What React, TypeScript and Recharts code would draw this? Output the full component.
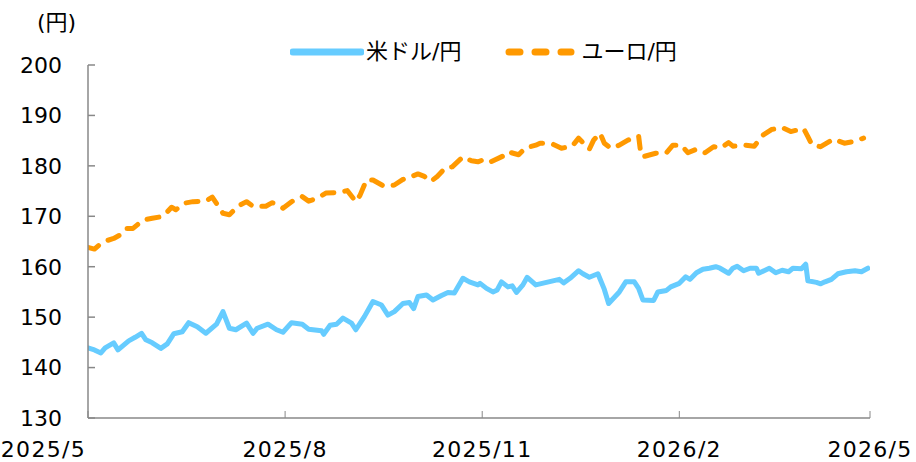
import { LineChart, Line, XAxis, YAxis } from "recharts";

// 米ドル/円 (daily-ish readings)
const usdDates = [
  "2025/5/1", "2025/5/4", "2025/5/7", "2025/5/9", "2025/5/13", "2025/5/15", "2025/5/20", "2025/5/23",
  "2025/5/26", "2025/5/28", "2025/5/31", "2025/6/4", "2025/6/7", "2025/6/10", "2025/6/14", "2025/6/17",
  "2025/6/21", "2025/6/25", "2025/6/30", "2025/7/3", "2025/7/6", "2025/7/9", "2025/7/14", "2025/7/17",
  "2025/7/19", "2025/7/24", "2025/7/28", "2025/7/31", "2025/8/4", "2025/8/9", "2025/8/12", "2025/8/18",
  "2025/8/19", "2025/8/22", "2025/8/25", "2025/8/28", "2025/9/1", "2025/9/3", "2025/9/7", "2025/9/11",
  "2025/9/15", "2025/9/18", "2025/9/21", "2025/9/25", "2025/9/28", "2025/9/30", "2025/10/2", "2025/10/6",
  "2025/10/9", "2025/10/13", "2025/10/16", "2025/10/19", "2025/10/23", "2025/10/26", "2025/10/30", "2025/10/31",
  "2025/11/3", "2025/11/6", "2025/11/8", "2025/11/10", "2025/11/13", "2025/11/15", "2025/11/17", "2025/11/20",
  "2025/11/22", "2025/11/26", "2025/11/30", "2025/12/4", "2025/12/7", "2025/12/9", "2025/12/12", "2025/12/16",
  "2025/12/18", "2025/12/21", "2025/12/25", "2025/12/28", "2025/12/30", "2026/1/4", "2026/1/7", "2026/1/11",
  "2026/1/13", "2026/1/15", "2026/1/20", "2026/1/22", "2026/1/26", "2026/1/28", "2026/2/1", "2026/2/4",
  "2026/2/6", "2026/2/9", "2026/2/12", "2026/2/15", "2026/2/18", "2026/2/20", "2026/2/24", "2026/2/26",
  "2026/2/28", "2026/3/3", "2026/3/6", "2026/3/9", "2026/3/10", "2026/3/15", "2026/3/18", "2026/3/21",
  "2026/3/24", "2026/3/26", "2026/3/30", "2026/4/1", "2026/4/2", "2026/4/6", "2026/4/8", "2026/4/10",
  "2026/4/13", "2026/4/16", "2026/4/20", "2026/4/24", "2026/4/27", "2026/4/30",
];
const usdValues = [
  143.9, 143.5, 142.9, 143.9, 144.9, 143.5, 145.3, 146.0,
  146.8, 145.5, 144.9, 143.8, 144.7, 146.7, 147.1, 148.9,
  148.1, 146.8, 148.6, 151.1, 147.8, 147.5, 148.8, 146.8,
  147.8, 148.6, 147.5, 147.0, 148.9, 148.6, 147.6, 147.3,
  146.6, 148.4, 148.6, 149.8, 148.8, 147.5, 150.1, 153.1,
  152.4, 150.4, 151.1, 152.7, 152.9, 151.7, 154.1, 154.4,
  153.4, 154.3, 154.9, 154.8, 157.7, 157.0, 156.4, 156.7,
  155.7, 155.0, 155.4, 157.0, 156.0, 156.2, 154.9, 156.4,
  157.9, 156.4, 156.8, 157.2, 157.5, 156.8, 157.7, 159.2,
  158.6, 157.9, 158.6, 155.5, 152.7, 155.0, 157.0, 157.0,
  155.7, 153.4, 153.3, 155.0, 155.3, 156.0, 156.7, 158.0,
  157.5, 158.8, 159.5, 159.7, 160.0, 159.7, 158.7, 159.7,
  160.1, 159.2, 159.7, 159.7, 158.7, 159.7, 158.8, 159.3,
  159.0, 159.7, 159.6, 160.5, 157.2, 156.9, 156.6, 157.0,
  157.5, 158.6, 159.0, 159.2, 159.0, 159.7,
];

// ユーロ/円
const eurDates = [
  "2025/5/1", "2025/5/4", "2025/5/7", "2025/5/10", "2025/5/13", "2025/5/16", "2025/5/19", "2025/5/22",
  "2025/5/24", "2025/5/27", "2025/5/31", "2025/6/4", "2025/6/6", "2025/6/9", "2025/6/11", "2025/6/15",
  "2025/6/19", "2025/6/25", "2025/6/28", "2025/7/1", "2025/7/3", "2025/7/6", "2025/7/10", "2025/7/14",
  "2025/7/17", "2025/7/23", "2025/7/26", "2025/7/31", "2025/8/4", "2025/8/9", "2025/8/12", "2025/8/16",
  "2025/8/20", "2025/8/26", "2025/8/30", "2025/9/3", "2025/9/5", "2025/9/8", "2025/9/11", "2025/9/16",
  "2025/9/21", "2025/9/25", "2025/9/29", "2025/10/2", "2025/10/5", "2025/10/8", "2025/10/11", "2025/10/15",
  "2025/10/18", "2025/10/23", "2025/10/27", "2025/10/30", "2025/11/2", "2025/11/5", "2025/11/11", "2025/11/13",
  "2025/11/18", "2025/11/21", "2025/11/26", "2025/11/28", "2025/12/4", "2025/12/8", "2025/12/13", "2025/12/16",
  "2025/12/21", "2025/12/23", "2025/12/26", "2025/12/28", "2025/12/31", "2026/1/4", "2026/1/8", "2026/1/13",
  "2026/1/14", "2026/1/15", "2026/1/21", "2026/1/26", "2026/1/29", "2026/2/2", "2026/2/5", "2026/2/9",
  "2026/2/13", "2026/2/17", "2026/2/20", "2026/2/24", "2026/2/26", "2026/3/4", "2026/3/8", "2026/3/12",
  "2026/3/16", "2026/3/21", "2026/3/25", "2026/3/31", "2026/4/2", "2026/4/4", "2026/4/8", "2026/4/14",
  "2026/4/19", "2026/4/23", "2026/4/28",
];
const eurValues = [
  163.8, 163.5, 164.6, 165.2, 165.6, 166.3, 167.6, 167.6,
  168.3, 169.3, 169.6, 169.9, 170.4, 171.8, 171.3, 172.6,
  172.9, 173.0, 173.8, 171.9, 170.6, 170.3, 172.0, 172.9,
  172.0, 172.0, 172.7, 171.6, 172.9, 173.9, 173.0, 173.6,
  174.6, 174.7, 175.1, 172.9, 174.2, 177.2, 177.2, 176.0,
  176.2, 177.3, 177.9, 178.4, 177.9, 176.9, 177.9, 179.7,
  179.8, 181.8, 181.0, 180.8, 181.3, 180.8, 182.0, 182.8,
  182.2, 183.5, 184.1, 184.5, 184.3, 183.5, 183.9, 185.5,
  183.3, 185.1, 186.5, 184.5, 183.5, 184.1, 185.1, 185.9,
  182.5, 181.8, 182.5, 182.6, 184.1, 184.1, 182.6, 183.3,
  182.6, 183.8, 183.5, 184.6, 183.9, 184.1, 183.9, 186.1,
  187.2, 187.6, 186.8, 187.4, 185.8, 184.1, 183.8, 185.3,
  184.5, 184.8, 185.5,
];

const tickLabels = ["2025/5", "2025/8", "2025/11", "2026/2", "2026/5"];
const yTicks = [130, 140, 150, 160, 170, 180, 190, 200];

const base = Date.UTC(2025, 4, 1);
const dayOf = (s: string) => {
  const [y, m, d] = s.split("/").map(Number);
  return (Date.UTC(y, m - 1, d) - base) / 86400000;
};

const usdData = usdDates.map((d, i) => ({ day: dayOf(d), value: usdValues[i] }));
const eurData = eurDates.map((d, i) => ({ day: dayOf(d), value: eurValues[i] }));
const xTicks = tickLabels.map((t) => dayOf(t + "/1"));

const FONT = "'DejaVu Sans', 'Noto Sans CJK JP', sans-serif";
const AXIS = "#888888";
const BLUE = "#66CCFF";
const ORANGE = "#FF9900";

const XTick = (props: any) => {
  const { x, y, payload, index } = props;
  const label = tickLabels[xTicks.indexOf(payload.value)] ?? "";
  const first = index === 0;
  return (
    <g>
      <line x1={x} x2={x} y1={y - 23} y2={y - 30} stroke={AXIS} strokeWidth={1} />
      <text
        x={first ? x - 2 : x}
        y={y}
        dy="0.71em"
        textAnchor={first ? "end" : "middle"}
        fontSize={22}
        letterSpacing={1.3}
        fontFamily={FONT}
        fill="#000"
      >
        {label}
      </text>
    </g>
  );
};

const YTick = (props: any) => {
  const { x, y, payload } = props;
  return (
    <g>
      <line x1={x + 26} x2={x + 33} y1={y} y2={y} stroke={AXIS} strokeWidth={1.5} />
      <text x={x} y={y} dy="0.355em" textAnchor="end" fontSize={22} fontFamily={FONT} fill="#000">
        {payload.value}
      </text>
    </g>
  );
};

export default function App() {
  return (
    <div style={{ position: "absolute", left: 0, top: 0, width: 916, height: 462, background: "#fff", fontFamily: FONT }}>
      <div style={{ position: "absolute", left: 37, top: 4, fontSize: 22, color: "#000" }}>(円)</div>
      <div
        style={{
          position: "absolute",
          left: 290,
          top: 38,
          display: "flex",
          alignItems: "center",
          fontSize: 22,
          color: "#000",
          lineHeight: "28px",
        }}
      >
        <svg width={74} height={10}>
          <line x1={3} x2={71} y1={5} y2={5} stroke={BLUE} strokeWidth={7} strokeLinecap="round" />
        </svg>
        <span style={{ marginLeft: 2 }}>米ドル/円</span>
        <svg width={70} height={10} style={{ marginLeft: 44 }}>
          <line x1={4} x2={66} y1={5} y2={5} stroke={ORANGE} strokeWidth={7} strokeLinecap="round" strokeDasharray="11 15" />
        </svg>
        <span style={{ marginLeft: 6 }}>ユーロ/円</span>
      </div>
      <LineChart width={916} height={462} margin={{ top: 65, right: 46, left: 0, bottom: 0 }}>
        <XAxis
          type="number"
          dataKey="day"
          domain={[0, 365]}
          ticks={xTicks}
          interval={0}
          height={44}
          tickSize={0}
          tickMargin={23}
          stroke={AXIS}
          strokeWidth={1.5}
          tick={<XTick />}
          allowDataOverflow
        />
        <YAxis
          type="number"
          domain={[130, 200]}
          ticks={yTicks}
          interval={0}
          width={88}
          tickSize={0}
          tickMargin={26}
          stroke={AXIS}
          strokeWidth={1.5}
          tick={<YTick />}
        />
        <Line
          data={usdData}
          dataKey="value"
          type="linear"
          stroke={BLUE}
          strokeWidth={5}
          dot={false}
          strokeLinejoin="round"
          strokeLinecap="round"
          isAnimationActive={false}
        />
        <Line
          data={eurData}
          dataKey="value"
          type="linear"
          stroke={ORANGE}
          strokeWidth={5}
          dot={false}
          strokeLinejoin="round"
          strokeLinecap="round"
          strokeDasharray="12 11"
          isAnimationActive={false}
        />
      </LineChart>
    </div>
  );
}
